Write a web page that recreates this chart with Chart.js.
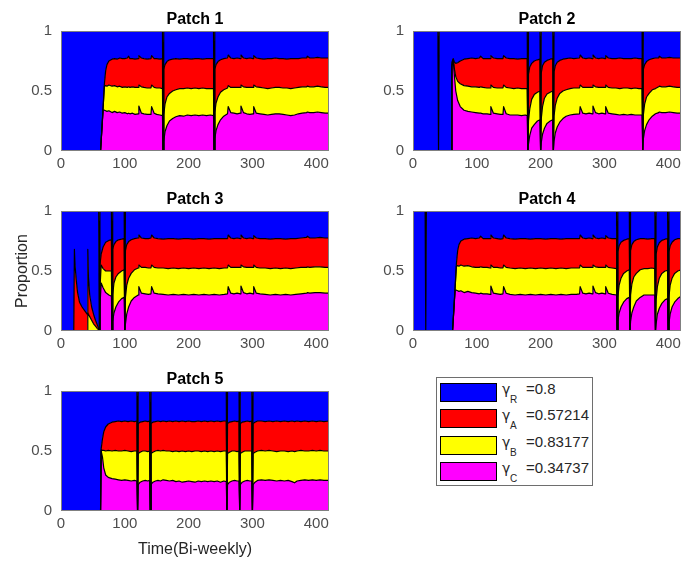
<!DOCTYPE html>
<html>
<head>
<meta charset="utf-8">
<title>Patch proportions</title>
<script src="https://cdn.jsdelivr.net/npm/chart.js@4.4.0/dist/chart.umd.min.js"></script>
<style>
  html, body { margin: 0; padding: 0; background: #fff; overflow: hidden; }
  body { width: 682px; height: 562px; position: relative; font-family: "Liberation Sans", Arial, sans-serif; }
  canvas.panel { position: absolute; }
  #legend { position: absolute; left: 436px; top: 377px; width: 155px; height: 107px; border: 1px solid #6e6e6e; background: #fff; }
  #legend .swatch { position: absolute; left: 3px; width: 55px; height: 17px; border: 1px solid #000; }
  #legend .lg { position: absolute; color: #262626; white-space: nowrap; font-size: 15px; line-height: 15px; }
  #legend .gam { font-family: "DejaVu Sans", sans-serif; font-size: 14px; }
  #legend .sub { position: absolute; color: #262626; white-space: nowrap; font-size: 10px; line-height: 10px; }
</style>
</head>
<body>
<div id="legend"></div>
<script>
// axis ticks
const xTicks = [0, 100, 200, 300, 400];
const yTicks = [0, 0.5, 1];
const timeMax = 420;

// legend: subscripts and gamma values
const legendSubs = ['R', 'A', 'B', 'C'];
const gammaValues = ['0.8', '0.57214', '0.83177', '0.34737'];

// Patch 1: cumulative tops of C (magenta), B (yellow), A (red); R fills to 1
const p1Time = [0, 62, 66, 68, 70, 72, 75, 80, 84, 88,
  92, 96, 100, 104, 106, 108, 112, 116, 121, 122,
  126, 130, 135, 141, 142, 146, 150, 155, 159, 160,
  161, 163, 166, 170, 175, 180, 186, 192, 198, 204,
  210, 216, 222, 228, 234, 239, 240, 241, 243, 246,
  250, 255, 261, 262, 266, 271, 276, 281, 282, 286,
  291, 296, 301, 302, 306, 312, 318, 324, 330, 336,
  342, 348, 354, 360, 366, 372, 378, 385, 386, 390,
  396, 402, 408, 414, 420];
const p1Magenta = [0, 0, .34, .34, .335, .33, .335, .32, .33, .32,
  .325, .315, .32, .31, .315, .31, .315, .305, .31, .375,
  .315, .31, .305, .305, .37, .315, .305, .3, .295, 0,
  .08, .16, .21, .25, .27, .285, .295, .29, .3, .295,
  .3, .295, .3, .295, .3, .295, 0, .1, .17, .22,
  .26, .29, .31, .37, .32, .315, .31, .315, .375, .32,
  .31, .305, .31, .37, .315, .31, .305, .3, .305, .31,
  .31, .305, .3, .295, .3, .31, .315, .32, .325, .32,
  .32, .325, .32, .315, .315];
const p1Yellow = [0, 0, .36, .54, .545, .54, .55, .54, .545, .535,
  .54, .53, .535, .53, .535, .53, .535, .53, .53, .55,
  .535, .53, .525, .525, .55, .53, .525, .525, .52, 0,
  .3, .39, .45, .48, .5, .51, .52, .52, .525, .52,
  .525, .52, .525, .52, .52, .52, 0, .32, .4, .45,
  .49, .51, .525, .545, .53, .53, .53, .53, .55, .535,
  .53, .53, .53, .55, .535, .53, .525, .52, .525, .53,
  .53, .525, .525, .52, .525, .53, .535, .535, .54, .535,
  .535, .54, .535, .53, .53];
const p1Red = [0, 0, .36, .56, .67, .72, .75, .765, .77, .765,
  .775, .77, .77, .775, .79, .77, .77, .765, .77, .795,
  .775, .77, .765, .77, .795, .77, .77, .765, .77, 0,
  .68, .72, .745, .76, .765, .77, .765, .77, .77, .765,
  .77, .77, .765, .77, .77, .77, 0, .68, .72, .745,
  .76, .77, .775, .8, .775, .77, .775, .77, .8, .775,
  .77, .775, .77, .795, .775, .77, .765, .77, .77, .775,
  .77, .77, .765, .77, .77, .77, .775, .775, .79, .775,
  .775, .78, .775, .775, .775];
const p1Empty = [160, 240];

// Patch 2
const p2Time = [0, 39, 40, 41, 60, 61, 63, 65, 67, 70,
  74, 80, 86, 92, 98, 104, 106, 110, 116, 121,
  122, 126, 132, 137, 141, 142, 146, 152, 158, 164,
  170, 176, 179, 180, 181, 183, 186, 190, 195, 199,
  200, 201, 203, 206, 210, 215, 219, 220, 221, 223,
  226, 230, 235, 240, 246, 252, 261, 262, 266, 271,
  276, 281, 282, 286, 291, 296, 301, 302, 306, 312,
  318, 324, 330, 336, 342, 348, 354, 359, 360, 361,
  363, 366, 370, 375, 380, 385, 386, 390, 396, 402,
  408, 414, 420];
const p2Magenta = [0, 0, 0, 0, 0, .7, .76, .62, .5, .42,
  .37, .34, .33, .325, .32, .315, .315, .31, .31, .305,
  .37, .315, .31, .305, .305, .37, .31, .3, .3, .3,
  .295, .3, .295, 0, .06, .13, .19, .22, .25, .26,
  0, .07, .14, .19, .23, .25, .26, 0, .08, .15,
  .2, .24, .27, .29, .3, .305, .31, .37, .315, .31,
  .315, .31, .375, .32, .31, .315, .31, .37, .315, .31,
  .305, .3, .305, .3, .305, .3, .3, .3, 0, .1,
  .17, .22, .26, .29, .31, .32, .325, .32, .32, .325,
  .32, .315, .315];
const p2Yellow = [0, 0, 0, 0, 0, .72, .765, .68, .62, .58,
  .56, .545, .54, .535, .535, .53, .535, .53, .525, .525,
  .55, .53, .525, .525, .525, .55, .53, .525, .52, .525,
  .52, .52, .52, 0, .25, .35, .43, .47, .49, .5,
  0, .27, .37, .44, .475, .49, .5, 0, .29, .38,
  .44, .48, .5, .51, .52, .525, .525, .55, .53, .53,
  .53, .53, .55, .535, .53, .53, .53, .55, .53, .525,
  .525, .52, .525, .525, .52, .525, .52, .52, 0, .3,
  .39, .45, .48, .51, .52, .535, .54, .535, .535, .54,
  .535, .53, .53];
const p2Red = [0, 0, 0, 0, 0, .74, .77, .74, .73, .735,
  .75, .765, .77, .775, .77, .775, .79, .77, .77, .77,
  .795, .775, .77, .77, .77, .795, .775, .77, .77, .765,
  .77, .77, .77, 0, .64, .7, .73, .75, .76, .765,
  0, .65, .71, .74, .755, .765, .77, 0, .66, .71,
  .74, .755, .765, .77, .775, .77, .775, .8, .775, .77,
  .775, .77, .8, .775, .77, .775, .77, .795, .775, .77,
  .77, .775, .77, .77, .77, .775, .77, .77, 0, .68,
  .72, .745, .76, .77, .775, .775, .79, .775, .775, .78,
  .775, .775, .775];
const p2Empty = [40, 180, 200, 220, 360];

// Patch 3
const p3Time = [0, 20, 21, 22, 24, 26, 29, 33, 37, 41,
  42, 43, 45, 48, 51, 54, 57, 59, 60, 61,
  63, 66, 70, 75, 79, 80, 81, 83, 86, 90,
  95, 99, 100, 101, 103, 106, 110, 115, 121, 122,
  126, 132, 137, 141, 142, 146, 152, 160, 168, 176,
  184, 192, 200, 208, 216, 224, 232, 240, 248, 256,
  261, 262, 266, 271, 276, 281, 282, 286, 291, 296,
  301, 302, 306, 312, 320, 328, 336, 344, 352, 360,
  368, 376, 385, 386, 390, 398, 406, 414, 420];
const p3Magenta = [0, 0, 0, 0, 0, 0, 0, 0, 0, 0,
  0, 0, 0, 0, 0, 0, 0, 0, 0, .2,
  .4, .36, .32, .3, .29, 0, .08, .15, .2, .24,
  .27, .28, 0, .06, .14, .2, .25, .28, .3, .37,
  .315, .31, .305, .31, .37, .315, .31, .305, .3, .305,
  .3, .305, .3, .305, .3, .305, .3, .305, .3, .305,
  .31, .37, .315, .31, .315, .31, .375, .32, .31, .315,
  .31, .37, .315, .31, .305, .3, .305, .3, .305, .3,
  .305, .31, .315, .32, .315, .32, .32, .315, .315];
const p3Yellow = [0, 0, 0, 0, 0, 0, 0, 0, 0, 0,
  .15, .14, .12, .09, .06, .04, .02, .01, 0, .35,
  .55, .52, .5, .5, .5, 0, .3, .4, .45, .48,
  .5, .51, 0, .28, .38, .44, .48, .51, .525, .55,
  .53, .53, .525, .525, .55, .53, .525, .525, .52, .525,
  .52, .525, .52, .525, .52, .525, .52, .525, .52, .525,
  .525, .55, .53, .53, .53, .53, .55, .535, .53, .53,
  .53, .55, .53, .525, .525, .52, .525, .52, .525, .52,
  .525, .53, .53, .535, .53, .535, .535, .53, .53];
const p3Red = [0, 0, .68, .55, .42, .32, .24, .2, .17, .14,
  .68, .45, .3, .2, .14, .09, .05, .02, 0, .55,
  .64, .7, .74, .755, .76, 0, .68, .72, .745, .76,
  .765, .77, 0, .67, .72, .745, .76, .77, .775, .8,
  .775, .77, .77, .775, .8, .775, .77, .765, .77, .77,
  .765, .77, .77, .765, .77, .77, .765, .77, .77, .77,
  .77, .8, .775, .77, .775, .77, .8, .775, .77, .775,
  .77, .795, .775, .77, .77, .765, .77, .77, .765, .77,
  .77, .775, .78, .79, .775, .775, .78, .775, .775];
const p3Empty = [60, 80, 100];

// Patch 4
const p4Time = [0, 19, 20, 21, 62, 66, 68, 70, 72, 75,
  80, 86, 92, 98, 104, 106, 110, 116, 121, 122,
  126, 132, 137, 141, 142, 146, 152, 160, 168, 176,
  184, 192, 200, 208, 216, 224, 232, 240, 248, 256,
  261, 262, 266, 271, 276, 281, 282, 286, 291, 296,
  301, 302, 306, 312, 319, 320, 321, 323, 326, 330,
  335, 339, 340, 341, 343, 346, 350, 356, 362, 368,
  374, 379, 380, 381, 383, 386, 390, 395, 399, 400,
  401, 403, 406, 410, 415, 420];
const p4Magenta = [0, 0, 0, 0, 0, .34, .34, .335, .33, .335,
  .32, .33, .32, .315, .31, .315, .31, .31, .305, .375,
  .315, .31, .305, .31, .37, .315, .305, .3, .305, .3,
  .305, .3, .305, .3, .305, .3, .305, .3, .305, .305,
  .31, .37, .315, .31, .315, .31, .375, .32, .31, .315,
  .31, .37, .315, .305, .3, 0, .08, .15, .2, .24,
  .27, .28, 0, .08, .15, .2, .25, .28, .3, .3,
  .3, .3, 0, .06, .14, .19, .23, .26, .27, 0,
  .06, .14, .2, .24, .27, .29];
const p4Yellow = [0, 0, 0, 0, 0, .36, .54, .545, .54, .55,
  .54, .545, .535, .53, .53, .535, .53, .53, .525, .55,
  .53, .53, .525, .525, .55, .53, .525, .52, .525, .52,
  .525, .52, .525, .52, .525, .52, .525, .52, .525, .525,
  .525, .55, .53, .53, .53, .53, .55, .535, .53, .53,
  .53, .55, .53, .525, .52, 0, .28, .38, .44, .48,
  .5, .51, 0, .3, .39, .45, .48, .51, .52, .52,
  .525, .52, 0, .26, .37, .44, .48, .5, .505, 0,
  .28, .38, .44, .48, .5, .51];
const p4Red = [0, 0, 0, 0, 0, .36, .56, .67, .72, .75,
  .765, .77, .775, .77, .775, .79, .77, .77, .77, .8,
  .775, .77, .765, .77, .8, .775, .77, .765, .77, .77,
  .765, .77, .77, .765, .77, .77, .765, .77, .77, .77,
  .77, .8, .775, .77, .775, .77, .8, .775, .77, .775,
  .77, .795, .775, .77, .77, 0, .66, .71, .74, .755,
  .765, .77, 0, .67, .72, .745, .76, .77, .77, .765,
  .77, .77, 0, .64, .7, .735, .755, .765, .77, 0,
  .66, .71, .74, .76, .77, .77];
const p4Empty = [20, 320, 340, 380, 400];

// Patch 5
const p5Time = [0, 62, 63, 65, 67, 70, 74, 80, 85, 90,
  95, 100, 105, 110, 115, 119, 120, 121, 124, 128,
  132, 136, 139, 140, 141, 144, 148, 152, 156, 160,
  165, 170, 175, 180, 185, 190, 195, 200, 205, 210,
  215, 220, 225, 230, 235, 240, 245, 250, 255, 259,
  260, 261, 264, 268, 272, 276, 279, 280, 281, 284,
  288, 292, 296, 299, 300, 301, 304, 308, 314, 320,
  326, 332, 338, 344, 350, 356, 362, 366, 370, 376,
  382, 388, 394, 400, 406, 412, 420];
const p5Magenta = [0, 0, .5, .45, .36, .3, .28, .27, .265, .26,
  .255, .26, .255, .25, .255, .25, 0, .22, .24, .25,
  .255, .25, .255, 0, .22, .24, .25, .255, .25, .26,
  .255, .25, .255, .245, .25, .24, .245, .25, .245, .24,
  .25, .245, .25, .245, .25, .245, .25, .24, .25, .245,
  0, .22, .24, .25, .255, .25, .25, 0, .22, .24,
  .25, .255, .25, .25, 0, .22, .24, .255, .26, .255,
  .26, .255, .25, .255, .25, .255, .245, .235, .25, .255,
  .26, .255, .26, .255, .26, .255, .255];
const p5Yellow = [0, 0, .51, .505, .505, .5, .505, .5, .505, .5,
  .5, .505, .5, .495, .5, .5, 0, .48, .49, .5,
  .5, .495, .5, 0, .48, .49, .5, .505, .5, .505,
  .5, .5, .495, .5, .495, .5, .495, .5, .495, .5,
  .5, .495, .5, .495, .5, .495, .5, .495, .5, .5,
  0, .48, .49, .5, .5, .495, .5, 0, .48, .49,
  .5, .5, .5, .5, 0, .48, .49, .5, .505, .5,
  .505, .5, .495, .5, .5, .495, .5, .495, .5, .505,
  .5, .5, .505, .5, .505, .5, .5];
const p5Red = [0, 0, .52, .6, .66, .7, .725, .74, .745, .75,
  .745, .75, .745, .75, .745, .75, 0, .73, .74, .745,
  .75, .745, .75, 0, .73, .74, .745, .75, .745, .75,
  .745, .75, .745, .75, .745, .75, .745, .75, .745, .745,
  .75, .745, .75, .745, .75, .745, .75, .745, .75, .75,
  0, .73, .74, .745, .75, .745, .75, 0, .73, .74,
  .745, .75, .745, .75, 0, .73, .74, .75, .75, .745,
  .75, .745, .75, .745, .75, .745, .75, .745, .75, .745,
  .75, .745, .75, .745, .75, .745, .75];
const p5Empty = [120, 140, 260, 280, 300];

const FONT = '"Liberation Sans", Arial, Helvetica, sans-serif';
const TICK_COLOR = '#4d4d4d';
const TEXT_COLOR = '#262626';
const FRAME_COLOR = '#808080';
const COLORS = { R: '#0000ff', A: '#ff0000', B: '#ffff00', C: '#ff00ff' };

Chart.defaults.font.family = FONT;
Chart.defaults.animation = false;

const panels = [
  { title: 'Patch 1', left: 0, top: 0, time: p1Time, c: p1Magenta, b: p1Yellow, a: p1Red, empty: p1Empty },
  { title: 'Patch 2', left: 352, top: 0, time: p2Time, c: p2Magenta, b: p2Yellow, a: p2Red, empty: p2Empty },
  { title: 'Patch 3', left: 0, top: 180, time: p3Time, c: p3Magenta, b: p3Yellow, a: p3Red, empty: p3Empty, yLabel: 'Proportion' },
  { title: 'Patch 4', left: 352, top: 180, time: p4Time, c: p4Magenta, b: p4Yellow, a: p4Red, empty: p4Empty },
  { title: 'Patch 5', left: 0, top: 360, time: p5Time, c: p5Magenta, b: p5Yellow, a: p5Red, empty: p5Empty, xLabel: 'Time(Bi-weekly)' }
];

// box around the axes, the panel title and the axis labels
const panelText = {
  id: 'panelText',
  afterDraw(chart, args, opts) {
    const { ctx, chartArea: a } = chart;
    ctx.save();
    ctx.strokeStyle = FRAME_COLOR;
    ctx.lineWidth = 1;
    ctx.strokeRect(a.left + 0.5, a.top + 0.5, a.width - 1, a.height - 1);

    ctx.fillStyle = '#000';
    ctx.font = 'bold 16px ' + FONT;
    ctx.textAlign = 'center';
    ctx.textBaseline = 'alphabetic';
    ctx.fillText(opts.title, (a.left + a.right) / 2, a.top - 7);

    ctx.fillStyle = TEXT_COLOR;
    ctx.font = '16px ' + FONT;
    if (opts.yLabel) {
      ctx.save();
      ctx.translate(27, (a.top + a.bottom) / 2);
      ctx.rotate(-Math.PI / 2);
      ctx.fillText(opts.yLabel, 0, 0);
      ctx.restore();
    }
    if (opts.xLabel) {
      ctx.fillText(opts.xLabel, (a.left + a.right) / 2, a.bottom + 43);
    }
    ctx.restore();
  }
};

function layer(time, values, color, fill) {
  return {
    data: time.map((t, i) => ({ x: t, y: values[i] })),
    backgroundColor: color,
    borderColor: '#000',
    borderWidth: 1.2,
    borderJoinStyle: 'round',
    fill: fill,
    pointRadius: 0,
    tension: 0
  };
}

panels.forEach(p => {
  const canvas = document.createElement('canvas');
  canvas.className = 'panel';
  canvas.width = 341;
  canvas.height = 200;
  canvas.style.left = p.left + 'px';
  canvas.style.top = p.top + 'px';
  document.body.appendChild(canvas);

  // the patch is empty at its disturbance times, so every layer drops to 0
  const total = p.time.map(t => p.empty.includes(t) ? 0 : 1);

  new Chart(canvas.getContext('2d'), {
    type: 'line',
    data: {
      datasets: [
        layer(p.time, p.c, COLORS.C, 'origin'),
        layer(p.time, p.b, COLORS.B, '-1'),
        layer(p.time, p.a, COLORS.A, '-1'),
        layer(p.time, total, COLORS.R, '-1')
      ]
    },
    options: {
      responsive: false,
      animation: false,
      layout: { padding: { top: 31, right: 12, bottom: 25, left: 0 } },
      plugins: {
        legend: { display: false },
        tooltip: { enabled: false },
        filler: { drawTime: 'beforeDatasetsDraw' },
        panelText: { title: p.title, yLabel: p.yLabel, xLabel: p.xLabel }
      },
      scales: {
        x: {
          type: 'linear',
          min: 0,
          max: timeMax,
          afterBuildTicks: s => { s.ticks = xTicks.map(v => ({ value: v })); },
          afterFit: s => { s.height = 24; },
          grid: { display: false, drawTicks: false },
          border: { display: false },
          ticks: { padding: 4, color: TICK_COLOR, font: { size: 15 }, maxRotation: 0, callback: v => String(v) }
        },
        y: {
          min: 0,
          max: 1,
          afterBuildTicks: s => { s.ticks = yTicks.map(v => ({ value: v })); },
          afterFit: s => { s.width = 61; },
          grid: { display: false, drawTicks: false },
          border: { display: false },
          ticks: { padding: 9, color: TICK_COLOR, font: { size: 15 }, callback: v => String(v) }
        }
      }
    },
    plugins: [panelText]
  });
});

// legend box
const legend = document.getElementById('legend');
const swatchColors = [COLORS.R, COLORS.A, COLORS.B, COLORS.C];
legendSubs.forEach((sub, i) => {
  const rowTop = 5 + Math.round(i * 26.3);
  const baseline = 16 + Math.round(i * 26.3);

  const sw = document.createElement('div');
  sw.className = 'swatch';
  sw.style.top = rowTop + 'px';
  sw.style.background = swatchColors[i];
  legend.appendChild(sw);

  const g = document.createElement('span');
  g.className = 'lg gam';
  g.style.left = '65px';
  g.style.top = (baseline - 12) + 'px';
  g.textContent = 'γ';
  legend.appendChild(g);

  const s = document.createElement('span');
  s.className = 'sub';
  s.style.left = '73px';
  s.style.top = (baseline + 1) + 'px';
  s.textContent = sub;
  legend.appendChild(s);

  const v = document.createElement('span');
  v.className = 'lg';
  v.style.left = '89px';
  v.style.top = (baseline - 13) + 'px';
  v.textContent = '=' + gammaValues[i];
  legend.appendChild(v);
});
</script>
</body>
</html>
